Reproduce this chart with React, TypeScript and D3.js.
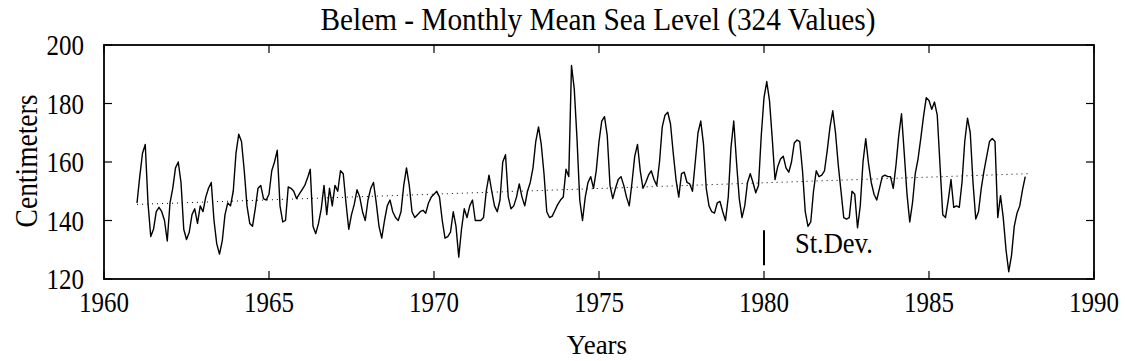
import React from "react";
import * as d3 from "d3";

const title = "Belem - Monthly Mean Sea Level (324 Values)";
const xLabel = "Years";
const yLabel = "Centimeters";
const startYear = 1961;
const xTicks = [1960, 1965, 1970, 1975, 1980, 1985, 1990];
const yTicks = [120, 140, 160, 180, 200];
const xDomain = [1960, 1990];
const yDomain = [120, 200];

// monthly means, Jan 1961 .. Dec 1987 (one row per year)
const seaLevel = [
  146, 155, 163, 166, 146, 134.5, 137, 143, 144.5, 143, 140, 133,
  146, 151, 158, 160, 153, 137, 133.5, 136, 142, 144, 139, 145,
  143, 148, 151, 153, 140, 132, 128.5, 133, 142, 146, 145, 150,
  163, 169.5, 167, 157, 145, 139, 138, 144, 151, 152, 147.5, 147,
  149, 157, 160, 164, 145, 139.5, 140, 151.5, 151, 150, 147.5, 149,
  150.5, 152, 154.5, 157.5, 138, 135.5, 139, 144, 152, 142, 151, 145,
  152, 150, 157, 156, 146, 137, 142, 145.5, 150.5, 148, 143, 140,
  147, 151, 153, 146, 138, 134, 140, 145, 147, 143, 141, 140,
  143, 152, 158, 152, 143, 141, 142, 143, 143.5, 142.5, 146, 148,
  149, 150, 148, 140, 134, 134.5, 136, 143, 138, 127.5, 137, 144,
  141, 145, 147, 140, 140, 140, 141, 150, 155.5, 150, 145, 143,
  147, 160, 162.5, 148, 144, 145, 148, 152.5, 148, 145, 150, 153,
  158, 167, 172, 166, 156, 143, 141, 141.5, 143.5, 145.5, 147, 148,
  157.5, 155, 193, 185, 168, 147, 140, 148, 153, 155, 151, 157,
  167, 174, 175.5, 169, 152, 147.5, 151, 154, 155, 152, 148, 145,
  153, 162, 166, 157, 151, 153, 155.5, 157, 154, 152, 160, 172,
  176, 177, 173, 163, 154, 148, 156, 156.5, 153, 152.5, 150, 160,
  170, 174, 166, 151, 145, 143, 142.5, 146, 146.5, 143, 140, 148,
  165, 174, 160, 147.5, 141, 145, 153, 156, 153, 149.5, 152, 169,
  182, 187.5, 181, 168, 154, 158.5, 161, 162, 158, 156.5, 160, 166.5,
  167.5, 167, 157, 143, 138, 139.5, 150, 157, 155, 155.5, 157, 164,
  172, 177.5, 170, 159, 150, 141, 140.5, 141, 150, 149, 137.5, 145,
  160, 168, 159.5, 153, 149, 147, 151, 155, 155.5, 155, 155, 151,
  159, 169, 176.5, 163, 149, 139.5, 146, 156, 161, 168, 175.5, 182,
  181, 178, 180.5, 176, 159, 142, 141, 147, 154, 144.5, 145, 144.5,
  153, 167, 175, 170, 153, 140.5, 143, 151, 157, 162, 167, 168,
  167, 141, 148.5, 141, 130, 122.5, 128, 138, 142.5, 145, 150.5, 155,
];

const trendYears = [1961, 1988];
const trendValues = [145.5, 156];

const stDevYear = 1980;
const stDevRange = [124.7, 136.7];
const stDevLabel = "St.Dev.";

const W = 1125;
const H = 361;
const M = { left: 104, right: 1094, top: 45, bottom: 279 };
const FONT = "'Liberation Serif', 'Times New Roman', Times, serif";
const STRETCH = 1.14;

export default function App() {
  const x = d3.scaleLinear().domain(xDomain).range([M.left, M.right]);
  const y = d3.scaleLinear().domain(yDomain).range([M.bottom, M.top]);

  const pts: [number, number][] = seaLevel.map((v, i) => [startYear + i / 12, v]);
  const line = d3
    .line<[number, number]>()
    .x((d) => x(d[0]))
    .y((d) => y(d[1]));

  const trendPts: [number, number][] = trendYears.map((t, i) => [t, trendValues[i]]);
  const tickLen = 8;

  return (
    <svg
      width={W}
      height={H}
      style={{ position: "absolute", left: 0, top: 0, background: "#fff" }}
      fontFamily={FONT}
    >
      <rect x={0} y={0} width={W} height={H} fill="#fff" />
      <text
        transform={`translate(598, 30) scale(1, 1.05)`}
        textAnchor="middle"
        fontSize={29.3}
        fill="#000"
      >
        {title}
      </text>

      {/* dotted trend */}
      <path
        d={line(trendPts) || ""}
        fill="none"
        stroke="#000"
        strokeWidth={1}
        strokeDasharray="1,4"
      />

      {/* data line */}
      <path d={line(pts) || ""} fill="none" stroke="#000" strokeWidth={1.4} strokeLinejoin="round" />

      {/* St.Dev bar */}
      <line
        x1={x(stDevYear)}
        x2={x(stDevYear)}
        y1={y(stDevRange[0])}
        y2={y(stDevRange[1])}
        stroke="#000"
        strokeWidth={2}
      />
      <text transform={`translate(795, 253) scale(1, ${STRETCH})`} fontSize={26.5} fill="#000">
        {stDevLabel}
      </text>

      {/* frame */}
      <rect
        x={M.left}
        y={M.top}
        width={M.right - M.left}
        height={M.bottom - M.top}
        fill="none"
        stroke="#000"
        strokeWidth={1.8}
      />

      {/* x ticks */}
      {xTicks.map((t) => (
        <g key={"x" + t}>
          <line x1={x(t)} x2={x(t)} y1={M.bottom} y2={M.bottom - tickLen} stroke="#000" strokeWidth={1.2} />
          <line x1={x(t)} x2={x(t)} y1={M.top} y2={M.top + tickLen} stroke="#000" strokeWidth={1.2} />
          <text
            transform={`translate(${x(t)}, 312) scale(1, ${STRETCH})`}
            textAnchor="middle"
            fontSize={25}
            fill="#000"
          >
            {t}
          </text>
        </g>
      ))}

      {/* y ticks */}
      {yTicks.map((t) => (
        <g key={"y" + t}>
          <line x1={M.left} x2={M.left + tickLen} y1={y(t)} y2={y(t)} stroke="#000" strokeWidth={1.2} />
          <line x1={M.right} x2={M.right - tickLen} y1={y(t)} y2={y(t)} stroke="#000" strokeWidth={1.2} />
          <text
            transform={`translate(84, ${y(t) + 10}) scale(1, ${STRETCH})`}
            textAnchor="end"
            fontSize={25}
            fill="#000"
          >
            {t}
          </text>
        </g>
      ))}

      <text x={597} y={354} textAnchor="middle" fontSize={27} fill="#000">
        {xLabel}
      </text>
      <text
        transform={`translate(37, ${(M.top + M.bottom) / 2 - 1}) rotate(-90) scale(1, ${STRETCH})`}
        textAnchor="middle"
        fontSize={27.5}
        fill="#000"
      >
        {yLabel}
      </text>
    </svg>
  );
}
